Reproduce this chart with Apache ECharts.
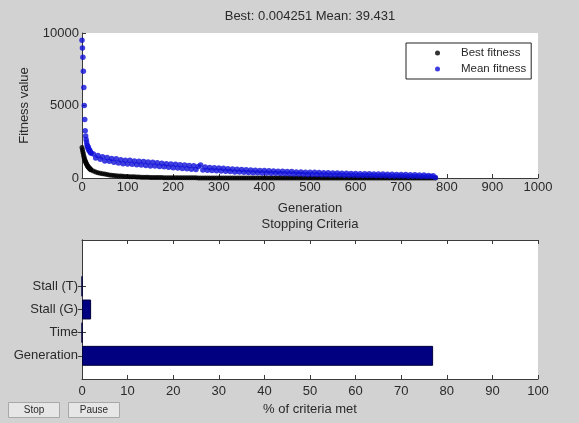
<!DOCTYPE html>
<html><head><meta charset="utf-8">
<script src="https://cdn.jsdelivr.net/npm/echarts@6/dist/echarts.min.js"></script>
<style>html,body{margin:0;padding:0;background:#d2d2d2}#c{width:579px;height:423px}</style>
</head><body><div id="c"></div>
<script>
// ---- data ----
const titleText = 'Best: 0.004251 Mean: 39.431';
const generations = [
  0,1,2,3,4,5,6,7,8,9,10,11,12,13,14,15,16,17,18,19,20,
  25,30,35,40,45,50,55,60,65,70,75,80,85,90,95,
  100,105,110,115,120,125,130,135,140,145,150,155,160,165,170,175,180,185,190,195,
  200,205,210,215,220,225,230,235,240,245,250,255,260,265,270,275,280,285,290,295,
  300,305,310,315,320,325,330,335,340,345,350,355,360,365,370,375,380,385,390,395,
  400,405,410,415,420,425,430,435,440,445,450,455,460,465,470,475,480,485,490,495,
  500,505,510,515,520,525,530,535,540,545,550,555,560,565,570,575,580,585,590,595,
  600,605,610,615,620,625,630,635,640,645,650,655,660,665,670,675,680,685,690,695,
  700,705,710,715,720,725,730,735,740,745,750,755,760,765,770,775
];
const meanFitness = [
  9500,8960,8330,7360,6250,5000,4030,3260,2900,2650,2480,2300,2200,2050,2120,1950,1880,1920,1800,1760,1700,
  1650,1380,1560,1300,1470,1180,1420,1150,1350,1080,1320,1040,1260,980,1230,
  960,1220,940,1180,910,1150,890,1130,870,1100,830,1080,820,1050,790,1020,770,990,750,960,
  700,950,690,920,660,900,640,860,610,840,580,800,900,560,760,540,730,520,700,500,
  690,480,670,460,640,440,620,420,600,410,590,400,570,380,550,370,530,360,520,350,
  510,340,500,330,480,320,470,310,460,300,450,290,440,280,420,270,410,260,400,250,
  400,250,390,240,380,230,370,220,360,215,350,210,340,200,330,195,320,190,310,185,
  310,180,300,175,290,170,285,165,280,160,275,155,270,150,260,145,255,140,250,135,
  245,130,240,125,230,120,225,115,215,110,200,105,180,100,150,39.431
];
const bestFitness = [
  2100,1950,1800,1650,1500,1380,1270,1180,1100,1030,960,900,850,800,760,720,680,650,620,590,560,
  480,420,370,330,300,270,240,215,195,175,160,145,130,120,110,
  100,92,85,78,72,66,60,55,50,46,42,38,35,32,29,26,24,22,20,18,
  17,16,15,14,13,12,11,10.5,10,9.5,9,8.5,8,7.5,7,6.8,6.5,6.2,6,5.7,
  5.5,5.2,5,4.8,4.6,4.4,4.2,4,3.8,3.6,3.4,3.2,3,2.9,2.8,2.7,2.6,2.5,2.4,2.3,
  2.2,2.1,2,1.9,1.8,1.7,1.6,1.5,1.4,1.3,1.2,1.1,1,0.95,0.9,0.85,0.8,0.75,0.7,0.65,
  0.6,0.56,0.52,0.48,0.45,0.42,0.39,0.36,0.33,0.3,0.28,0.26,0.24,0.22,0.2,0.18,0.16,0.15,0.14,0.13,
  0.12,0.11,0.1,0.095,0.09,0.085,0.08,0.075,0.07,0.065,0.06,0.055,0.05,0.046,0.042,0.038,0.035,0.032,0.03,0.028,
  0.026,0.024,0.022,0.02,0.018,0.016,0.014,0.012,0.011,0.01,0.009,0.008,0.007,0.006,0.005,0.004251
];
const criteriaLabels = ['Generation', 'Time', 'Stall (G)', 'Stall (T)'];
const criteriaValues = [77, 0, 2, 0];
const buttonLabels = ['Stop', 'Pause'];

// ---- build ----
const FONT = '"Liberation Sans", Arial, sans-serif';
const TXT = '#2a2a2a';
const AX = '#3a3a3a';
const FS = 13;
const bestData = generations.map((g, i) => [g, bestFitness[i]]);
const meanData = generations.map((g, i) => [g, meanFitness[i]]);
const catData = [''].concat(criteriaLabels, ['', '']);
const barData = [null].concat(criteriaValues, [null, null]);

const tickInside = { show: true, inside: true, length: 4, lineStyle: { color: AX } };
const axLine = { show: true, lineStyle: { color: AX, width: 1 } };
const lbl = { color: TXT, fontSize: FS, fontFamily: FONT };
const plain = v => String(v);

const chart = echarts.init(document.getElementById('c'), null, { renderer: 'canvas' });
chart.setOption({
  backgroundColor: '#d2d2d2',
  animation: false,
  textStyle: { fontFamily: FONT },
  title: [
    { text: titleText, left: 310, textAlign: 'center', top: 10, padding: 0,
      textStyle: { fontSize: FS, fontWeight: 'normal', color: TXT, fontFamily: FONT } },
    { text: 'Stopping Criteria', left: 310, textAlign: 'center', top: 218, padding: 0,
      textStyle: { fontSize: FS, fontWeight: 'normal', color: TXT, fontFamily: FONT } }
  ],
  legend: {
    data: ['Best fitness', 'Mean fitness'],
    orient: 'vertical', left: 406, top: 43,
    padding: [4, 5, 4, 29], itemGap: 4,
    itemWidth: 5, itemHeight: 5, icon: 'circle',
    backgroundColor: '#fff', borderColor: '#222', borderWidth: 1, borderRadius: 0,
    textStyle: { fontSize: 11.5, color: TXT, fontFamily: FONT, padding: [0, 0, 0, 16] }
  },
  grid: [
    { left: 82, top: 33, width: 456, height: 145, show: true, backgroundColor: '#fff', borderWidth: 0 },
    { left: 82, top: 240, width: 456, height: 139, show: true, backgroundColor: '#fff', borderWidth: 0 }
  ],
  xAxis: [
    { gridIndex: 0, type: 'value', min: 0, max: 1000, interval: 100,
      name: 'Generation', nameLocation: 'middle', nameGap: 24,
      nameTextStyle: lbl, axisLabel: Object.assign({ margin: 3, formatter: plain }, lbl),
      axisLine: axLine, axisTick: tickInside, splitLine: { show: false } },
    { gridIndex: 1, type: 'value', min: 0, max: 100, interval: 10,
      name: '% of criteria met', nameLocation: 'middle', nameGap: 24,
      nameTextStyle: lbl, axisLabel: Object.assign({ margin: 6, formatter: plain }, lbl),
      axisLine: axLine, axisTick: tickInside, splitLine: { show: false } },
    { gridIndex: 1, type: 'value', min: 0, max: 100, interval: 10, position: 'top',
      axisLabel: { show: false }, axisLine: axLine, axisTick: tickInside, splitLine: { show: false } }
  ],
  yAxis: [
    { gridIndex: 0, type: 'value', min: 0, max: 10000, interval: 5000,
      name: 'Fitness value', nameLocation: 'middle', nameGap: 51, nameRotate: 90,
      nameTextStyle: lbl, axisLabel: Object.assign({ margin: 3, formatter: plain }, lbl),
      axisLine: axLine, axisTick: tickInside, splitLine: { show: false } },
    { gridIndex: 1, type: 'category', data: catData, boundaryGap: false,
      axisLabel: Object.assign({ margin: 4, interval: 0 }, lbl),
      axisLine: axLine,
      axisTick: { show: true, inside: true, length: 4, lineStyle: { color: AX }, interval: (i, v) => v !== '' },
      splitLine: { show: false } },
    { gridIndex: 1, type: 'category', data: catData, boundaryGap: false, position: 'right',
      axisLabel: { show: false }, axisLine: axLine,
      axisTick: { show: true, inside: true, length: 4, lineStyle: { color: AX }, interval: (i, v) => v !== '' },
      splitLine: { show: false } }
  ],
  series: [
    { name: 'Best fitness', type: 'scatter', xAxisIndex: 0, yAxisIndex: 0, data: bestData,
      symbol: 'circle', symbolSize: 5, itemStyle: { color: '#000' } },
    { name: 'Mean fitness', type: 'scatter', xAxisIndex: 0, yAxisIndex: 0, data: meanData,
      symbol: 'circle', symbolSize: 5.5, itemStyle: { color: '#1010d8' } },
    { name: 'criteria', type: 'bar', xAxisIndex: 1, yAxisIndex: 1, data: barData,
      barWidth: '86%', itemStyle: { color: '#000080', borderColor: '#00003a', borderWidth: 1 } }
  ],
  graphic: buttonLabels.map((t, i) => ({
    type: 'group', left: 8 + i * 60, top: 402,
    children: [
      { type: 'rect', shape: { x: 0, y: 0, width: 51, height: 15 },
        style: { fill: '#e6e6e6', stroke: '#a8a8a8', lineWidth: 1 } },
      { type: 'text', x: 25.5, y: 7.5,
        style: { text: t, fill: TXT, fontSize: 10, fontFamily: FONT, align: 'center', verticalAlign: 'middle' } }
    ]
  }))
});
</script></body></html>
